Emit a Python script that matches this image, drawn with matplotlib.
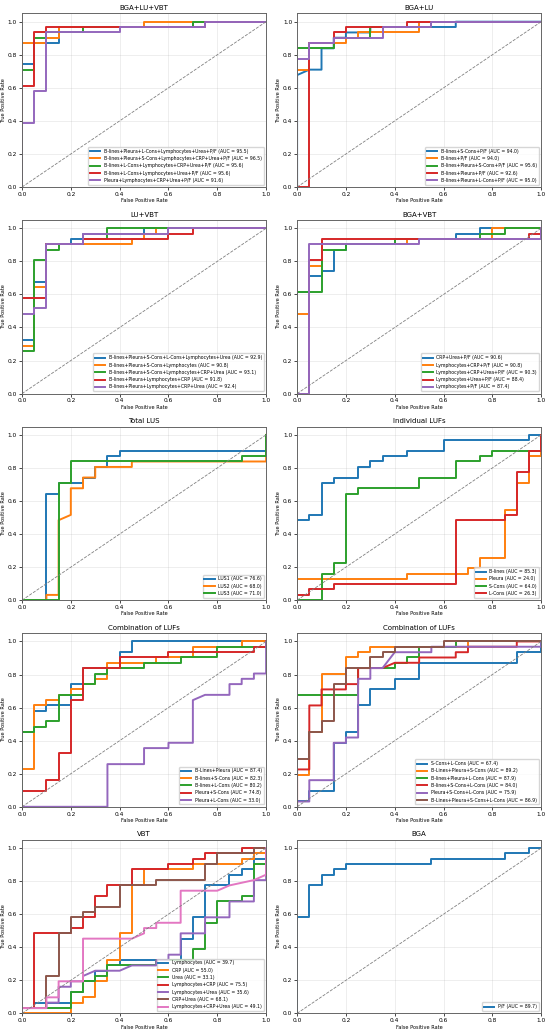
import matplotlib
matplotlib.use("Agg")
import matplotlib.pyplot as plt

# ROC curves (fpr / tpr corner points)

# Panel 1: BGA+LU+VBT
p1_title = "BGA+LU+VBT"
p1_labels = ["B-lines+Pleura+L-Cons+Lymphocytes+Urea+P/F (AUC = 95.5)",
             "B-lines+Pleura+S-Cons+Lymphocytes+CRP+Urea+P/F (AUC = 96.5)",
             "B-lines+L-Cons+Lymphocytes+CRP+Urea+P/F (AUC = 95.6)",
             "B-lines+L-Cons+Lymphocytes+Urea+P/F (AUC = 95.6)",
             "Pleura+Lymphocytes+CRP+Urea+P/F (AUC = 91.6)"]
p1_fpr = [[0, 0, 0.05, 0.05, 0.15, 0.15, 0.7, 0.7, 1],
          [0, 0, 0.1, 0.1, 0.15, 0.15, 0.5, 0.5, 1],
          [0, 0, 0.05, 0.05, 0.1, 0.1, 0.25, 0.25, 0.7, 0.7, 1],
          [0, 0, 0.05, 0.05, 0.1, 0.1, 0.35, 0.35, 0.75, 0.75, 1],
          [0, 0, 0.05, 0.05, 0.1, 0.1, 0.4, 0.4, 0.75, 0.75, 1]]
p1_tpr = [[0, 0.742, 0.742, 0.871, 0.871, 0.968, 0.968, 1, 1],
          [0, 0.871, 0.871, 0.903, 0.903, 0.968, 0.968, 1, 1],
          [0, 0.710, 0.710, 0.903, 0.903, 0.935, 0.935, 0.968, 0.968, 1, 1],
          [0, 0.613, 0.613, 0.935, 0.935, 0.968, 0.968, 0.968, 0.968, 1, 1],
          [0, 0.387, 0.387, 0.581, 0.581, 0.935, 0.935, 0.968, 0.968, 1, 1]]

# Panel 2: BGA+LU
p2_title = "BGA+LU"
p2_labels = ["B-lines+S-Cons+P/F (AUC = 94.0)",
             "B-lines+P/F (AUC = 94.0)",
             "B-lines+Pleura+S-Cons+P/F (AUC = 95.6)",
             "B-lines+Pleura+P/F (AUC = 92.6)",
             "B-lines+Pleura+L-Cons+P/F (AUC = 95.0)"]
p2_fpr = [[0, 0, 0.05, 0.1, 0.1, 0.15, 0.15, 0.2, 0.2, 0.3, 0.3, 0.65, 0.65, 1],
          [0, 0, 0.05, 0.05, 0.2, 0.2, 0.25, 0.25, 0.5, 0.5, 1],
          [0, 0, 0.15, 0.15, 0.3, 0.3, 0.55, 0.55, 1],
          [0, 0.05, 0.05, 0.15, 0.15, 0.2, 0.2, 0.45, 0.45, 1],
          [0, 0, 0.05, 0.05, 0.15, 0.15, 0.35, 0.35, 0.55, 0.55, 1]]
p2_tpr = [[0, 0.677, 0.710, 0.710, 0.839, 0.839, 0.903, 0.903, 0.935, 0.935, 0.968, 0.968, 1, 1],
          [0, 0.710, 0.710, 0.871, 0.871, 0.903, 0.903, 0.935, 0.935, 1, 1],
          [0, 0.839, 0.839, 0.903, 0.903, 0.968, 0.968, 1, 1],
          [0, 0, 0.871, 0.871, 0.935, 0.935, 0.968, 0.968, 1, 1],
          [0, 0.774, 0.774, 0.871, 0.871, 0.903, 0.903, 0.968, 0.968, 1, 1]]

# Panel 3: LU+VBT
p3_title = "LU+VBT"
p3_labels = ["B-lines+Pleura+S-Cons+L-Cons+Lymphocytes+Urea (AUC = 92.9)",
             "B-lines+Pleura+S-Cons+Lymphocytes (AUC = 90.8)",
             "B-lines+Pleura+S-Cons+Lymphocytes+CRP+Urea (AUC = 93.1)",
             "B-lines+Pleura+Lymphocytes+CRP (AUC = 91.8)",
             "B-lines+Pleura+Lymphocytes+CRP+Urea (AUC = 92.4)"]
p3_fpr = [[0, 0, 0.05, 0.05, 0.1, 0.1, 0.2, 0.2, 0.25, 0.25, 0.5, 0.5, 1],
          [0, 0, 0.05, 0.05, 0.1, 0.1, 0.45, 0.45, 0.5, 0.5, 0.55, 0.55, 1],
          [0, 0, 0.05, 0.05, 0.1, 0.1, 0.15, 0.15, 0.25, 0.25, 0.35, 0.35, 1],
          [0, 0, 0.1, 0.1, 0.25, 0.25, 0.6, 0.6, 0.7, 0.7, 1],
          [0, 0, 0.05, 0.05, 0.1, 0.1, 0.25, 0.25, 0.6, 0.6, 1]]
p3_tpr = [[0, 0.323, 0.323, 0.677, 0.677, 0.903, 0.903, 0.935, 0.935, 0.968, 0.968, 1, 1],
          [0, 0.290, 0.290, 0.645, 0.645, 0.903, 0.903, 0.935, 0.935, 0.968, 0.968, 1, 1],
          [0, 0.258, 0.258, 0.806, 0.806, 0.871, 0.871, 0.903, 0.903, 0.935, 0.935, 1, 1],
          [0, 0.581, 0.581, 0.903, 0.903, 0.935, 0.935, 0.968, 0.968, 1, 1],
          [0, 0.484, 0.484, 0.516, 0.516, 0.903, 0.903, 0.968, 0.968, 1, 1]]

# Panel 4: BGA+VBT
p4_title = "BGA+VBT"
p4_labels = ["CRP+Urea+P/F (AUC = 90.6)",
             "Lymphocytes+CRP+P/F (AUC = 90.8)",
             "Lymphocytes+CRP+Urea+P/F (AUC = 90.3)",
             "Lymphocytes+Urea+P/F (AUC = 88.4)",
             "Lymphocytes+P/F (AUC = 87.4)"]
p4_fpr = [[0, 0, 0.05, 0.05, 0.1, 0.1, 0.15, 0.15, 0.2, 0.2, 0.4, 0.4, 0.65, 0.65, 0.75, 0.75, 1],
          [0, 0, 0.05, 0.05, 0.1, 0.1, 0.45, 0.45, 0.8, 0.8, 1],
          [0, 0, 0.1, 0.1, 0.2, 0.2, 0.4, 0.4, 0.75, 0.75, 0.85, 0.85, 1],
          [0, 0.05, 0.05, 0.1, 0.1, 0.95, 0.95, 1, 1],
          [0, 0.05, 0.05, 0.5, 0.5, 1, 1]]
p4_tpr = [[0, 0.613, 0.613, 0.710, 0.710, 0.742, 0.742, 0.871, 0.871, 0.903, 0.903, 0.935, 0.935, 0.968, 0.968, 1, 1],
          [0, 0.484, 0.484, 0.774, 0.774, 0.903, 0.903, 0.935, 0.935, 1, 1],
          [0, 0.613, 0.613, 0.871, 0.871, 0.903, 0.903, 0.935, 0.935, 0.968, 0.968, 1, 1],
          [0, 0, 0.806, 0.806, 0.935, 0.935, 0.968, 0.968, 1],
          [0, 0, 0.903, 0.903, 0.935, 0.935, 1]]

# Panel 5: Total LUS
p5_title = "Total LUS"
p5_labels = ["LUS1 (AUC = 76.6)", "LUS2 (AUC = 68.0)", "LUS3 (AUC = 71.0)"]
p5_fpr = [[0, 0.1, 0.1, 0.15, 0.15, 0.25, 0.25, 0.3, 0.3, 0.35, 0.35, 0.4, 0.4, 1, 1],
          [0, 0.1, 0.1, 0.15, 0.15, 0.2, 0.2, 0.25, 0.25, 0.3, 0.3, 0.45, 0.45, 1, 1],
          [0, 0.15, 0.15, 0.2, 0.2, 0.9, 0.9, 1, 1]]
p5_tpr = [[0, 0, 0.645, 0.645, 0.710, 0.710, 0.742, 0.742, 0.806, 0.806, 0.871, 0.871, 0.903, 0.903, 1],
          [0, 0, 0.032, 0.032, 0.484, 0.516, 0.677, 0.677, 0.742, 0.742, 0.806, 0.806, 0.839, 0.839, 1],
          [0, 0, 0.710, 0.710, 0.839, 0.839, 0.871, 0.871, 1]]

# Panel 6: Individual LUFs
p6_title = "Individual LUFs"
p6_labels = ["B-lines (AUC = 85.3)", "Pleura (AUC = 24.0)",
             "S-Cons (AUC = 64.0)", "L-Cons (AUC = 26.3)"]
p6_fpr = [[0, 0, 0.05, 0.05, 0.1, 0.1, 0.15, 0.15, 0.25, 0.25, 0.3, 0.3, 0.35, 0.35, 0.45, 0.45, 0.6, 0.6, 0.95, 0.95, 1],
          [0, 0, 0.45, 0.45, 0.7, 0.7, 0.75, 0.75, 0.85, 0.85, 0.9, 0.9, 0.95, 0.95, 1, 1],
          [0, 0.1, 0.1, 0.15, 0.15, 0.2, 0.2, 0.25, 0.25, 0.5, 0.5, 0.65, 0.65, 0.75, 0.75, 0.8, 0.8, 1, 1],
          [0, 0, 0.05, 0.05, 0.15, 0.15, 0.65, 0.65, 0.85, 0.85, 0.9, 0.9, 0.95, 0.95, 1, 1]]
p6_tpr = [[0, 0.484, 0.484, 0.516, 0.516, 0.710, 0.710, 0.742, 0.742, 0.806, 0.806, 0.839, 0.839, 0.871, 0.871, 0.903, 0.903, 0.968, 0.968, 1, 1],
          [0, 0.129, 0.129, 0.161, 0.161, 0.194, 0.194, 0.258, 0.258, 0.548, 0.548, 0.710, 0.710, 0.871, 0.871, 1],
          [0, 0, 0.161, 0.161, 0.226, 0.226, 0.645, 0.645, 0.677, 0.677, 0.742, 0.742, 0.839, 0.839, 0.871, 0.871, 0.903, 0.903, 1],
          [0, 0.032, 0.032, 0.065, 0.065, 0.097, 0.097, 0.484, 0.484, 0.516, 0.516, 0.774, 0.774, 0.903, 0.903, 1]]

# Panel 7: Combination of LUFs (pairs)
p7_title = "Combination of LUFs"
p7_labels = ["B-Lines+Pleura (AUC = 87.4)", "B-lines+S-Cons (AUC = 82.3)",
             "B-lines+L-Cons (AUC = 80.2)", "Pleura+S-Cons (AUC = 74.8)",
             "Pleura+L-Cons (AUC = 33.0)"]
p7_fpr = [[0, 0, 0.05, 0.05, 0.1, 0.1, 0.2, 0.2, 0.25, 0.25, 0.4, 0.4, 0.45, 0.45, 1],
          [0, 0, 0.05, 0.05, 0.1, 0.1, 0.15, 0.15, 0.2, 0.2, 0.25, 0.25, 0.3, 0.3, 0.35, 0.35, 0.55, 0.55, 0.7, 0.7, 0.9, 0.9, 1],
          [0, 0, 0.05, 0.05, 0.1, 0.1, 0.15, 0.15, 0.25, 0.25, 0.3, 0.3, 0.35, 0.35, 0.5, 0.5, 0.65, 0.65, 0.8, 0.8, 1, 1],
          [0, 0, 0.1, 0.1, 0.15, 0.15, 0.2, 0.2, 0.25, 0.25, 0.4, 0.4, 0.6, 0.6, 0.95, 0.95, 1, 1],
          [0, 0.35, 0.35, 0.5, 0.5, 0.6, 0.6, 0.7, 0.7, 0.75, 0.85, 0.85, 0.9, 0.9, 0.95, 0.95, 1, 1]]
p7_tpr = [[0, 0.452, 0.452, 0.581, 0.581, 0.613, 0.613, 0.742, 0.742, 0.839, 0.839, 0.935, 0.935, 1, 1],
          [0, 0.226, 0.226, 0.613, 0.613, 0.645, 0.645, 0.677, 0.677, 0.710, 0.710, 0.742, 0.742, 0.774, 0.774, 0.871, 0.871, 0.903, 0.903, 0.968, 0.968, 1, 1],
          [0, 0.452, 0.452, 0.484, 0.484, 0.516, 0.516, 0.677, 0.677, 0.742, 0.742, 0.806, 0.806, 0.839, 0.839, 0.871, 0.871, 0.903, 0.903, 0.968, 0.968, 1],
          [0, 0.097, 0.097, 0.161, 0.161, 0.323, 0.323, 0.645, 0.645, 0.839, 0.839, 0.903, 0.903, 0.935, 0.935, 0.968, 0.968, 1],
          [0, 0, 0.258, 0.258, 0.355, 0.355, 0.387, 0.387, 0.645, 0.677, 0.677, 0.742, 0.742, 0.774, 0.774, 0.806, 0.806, 1]]

# Panel 8: Combination of LUFs (three and four)
p8_title = "Combination of LUFs"
p8_labels = ["S-Cons+L-Cons (AUC = 67.4)",
             "B-Lines+Pleura+S-Cons (AUC = 89.2)",
             "B-lines+Pleura+L-Cons (AUC = 87.9)",
             "B-lines+S-Cons+L-Cons (AUC = 84.0)",
             "Pleura+S-Cons+L-Cons (AUC = 75.9)",
             "B-Lines+Pleura+S-Cons+L-Cons (AUC = 86.9)"]
p8_fpr = [[0, 0, 0.05, 0.05, 0.15, 0.15, 0.2, 0.2, 0.25, 0.25, 0.3, 0.3, 0.4, 0.4, 0.5, 0.5, 0.9, 0.9, 1, 1],
          [0, 0, 0.05, 0.05, 0.1, 0.1, 0.2, 0.2, 0.25, 0.25, 0.3, 0.3, 0.7, 0.7, 1],
          [0, 0, 0.25, 0.25, 0.4, 0.4, 0.45, 0.45, 0.5, 0.5, 0.65, 0.65, 1],
          [0, 0, 0.05, 0.05, 0.1, 0.1, 0.2, 0.2, 0.25, 0.25, 0.35, 0.4, 0.5, 0.5, 0.65, 0.65, 0.7, 0.7, 0.9, 0.9, 1],
          [0, 0, 0.05, 0.05, 0.15, 0.15, 0.2, 0.2, 0.25, 0.25, 0.3, 0.3, 0.35, 0.4, 0.55, 0.55, 1, 1],
          [0, 0, 0.05, 0.05, 0.1, 0.1, 0.15, 0.15, 0.2, 0.2, 0.3, 0.3, 0.35, 0.35, 0.4, 0.4, 0.6, 0.6, 1]]
p8_tpr = [[0, 0.032, 0.032, 0.097, 0.097, 0.387, 0.387, 0.452, 0.452, 0.613, 0.613, 0.710, 0.710, 0.774, 0.774, 0.871, 0.871, 0.935, 0.935, 1],
          [0, 0.194, 0.194, 0.452, 0.452, 0.806, 0.806, 0.903, 0.903, 0.935, 0.935, 0.968, 0.968, 1, 1],
          [0, 0.677, 0.677, 0.839, 0.839, 0.871, 0.871, 0.903, 0.903, 0.968, 0.968, 1, 1],
          [0, 0.226, 0.226, 0.613, 0.613, 0.710, 0.710, 0.742, 0.742, 0.839, 0.839, 0.871, 0.871, 0.903, 0.903, 0.935, 0.935, 0.968, 0.968, 1, 1],
          [0, 0.032, 0.032, 0.161, 0.161, 0.387, 0.387, 0.419, 0.419, 0.774, 0.774, 0.839, 0.839, 0.935, 0.935, 0.968, 0.968, 1],
          [0, 0.290, 0.290, 0.452, 0.452, 0.516, 0.516, 0.742, 0.742, 0.839, 0.839, 0.903, 0.903, 0.935, 0.935, 0.968, 0.968, 1, 1]]

# Panel 9: VBT
p9_title = "VBT"
p9_labels = ["Lymphocytes (AUC = 39.7)", "CRP (AUC = 55.0)", "Urea (AUC = 33.1)",
             "Lymphocytes+CRP (AUC = 75.5)", "Lymphocytes+Urea (AUC = 35.6)",
             "CRP+Urea (AUC = 68.1)", "Lymphocytes+CRP+Urea (AUC = 49.1)"]
p9_fpr = [[0, 0, 0.05, 0.05, 0.2, 0.2, 0.25, 0.25, 0.3, 0.3, 0.35, 0.35, 0.4, 0.4, 0.65, 0.65, 0.7, 0.7, 0.75, 0.75, 0.85, 0.85, 0.9, 0.9, 0.95, 0.95, 1, 1],
          [0, 0.2, 0.2, 0.25, 0.25, 0.3, 0.3, 0.35, 0.35, 0.4, 0.4, 0.45, 0.45, 0.5, 0.5, 0.7, 0.7, 0.9, 0.9, 0.95, 0.95, 1, 1],
          [0, 0, 0.2, 0.2, 0.25, 0.25, 0.3, 0.3, 0.35, 0.35, 0.55, 0.55, 0.7, 0.7, 0.75, 0.75, 0.8, 0.8, 0.9, 0.9, 0.95, 0.95, 1, 1],
          [0, 0, 0.05, 0.05, 0.2, 0.2, 0.25, 0.25, 0.3, 0.3, 0.35, 0.35, 0.45, 0.45, 0.6, 0.6, 0.7, 0.7, 0.75, 0.75, 0.9, 0.9, 1],
          [0, 0, 0.1, 0.1, 0.15, 0.15, 0.2, 0.2, 0.25, 0.25, 0.3, 0.4, 0.45, 0.55, 0.55, 0.6, 0.6, 0.65, 0.65, 0.75, 0.75, 0.85, 0.85, 0.95, 0.95, 1, 1],
          [0, 0, 0.1, 0.1, 0.15, 0.15, 0.2, 0.2, 0.25, 0.25, 0.3, 0.3, 0.4, 0.4, 0.55, 0.55, 0.75, 0.75, 0.8, 0.8, 0.95, 0.95, 1],
          [0, 0, 0.1, 0.1, 0.15, 0.15, 0.25, 0.25, 0.45, 0.5, 0.5, 0.55, 0.55, 0.65, 0.65, 0.8, 0.85, 0.95, 1, 1]]
p9_tpr = [[0, 0.032, 0.032, 0.065, 0.065, 0.129, 0.129, 0.194, 0.194, 0.258, 0.258, 0.290, 0.290, 0.323, 0.323, 0.452, 0.452, 0.581, 0.581, 0.774, 0.774, 0.839, 0.839, 0.871, 0.871, 0.935, 0.935, 1],
          [0, 0, 0.065, 0.065, 0.097, 0.097, 0.194, 0.194, 0.323, 0.323, 0.484, 0.484, 0.774, 0.774, 0.871, 0.871, 0.903, 0.903, 0.935, 0.935, 0.968, 0.968, 1],
          [0, 0.032, 0.032, 0.129, 0.129, 0.194, 0.194, 0.226, 0.226, 0.290, 0.290, 0.323, 0.323, 0.387, 0.387, 0.548, 0.548, 0.677, 0.677, 0.710, 0.710, 0.903, 0.903, 1],
          [0, 0.032, 0.032, 0.484, 0.484, 0.516, 0.516, 0.581, 0.581, 0.710, 0.710, 0.774, 0.774, 0.871, 0.871, 0.903, 0.903, 0.935, 0.935, 0.968, 0.968, 1, 1],
          [0, 0.032, 0.032, 0.065, 0.065, 0.161, 0.161, 0.194, 0.194, 0.226, 0.258, 0.258, 0.290, 0.290, 0.323, 0.323, 0.355, 0.355, 0.484, 0.484, 0.581, 0.581, 0.677, 0.677, 0.806, 0.806, 1],
          [0, 0.032, 0.032, 0.226, 0.226, 0.484, 0.484, 0.581, 0.581, 0.613, 0.613, 0.645, 0.645, 0.774, 0.774, 0.806, 0.806, 0.903, 0.903, 0.968, 0.968, 1, 1],
          [0, 0.032, 0.032, 0.097, 0.097, 0.194, 0.194, 0.452, 0.452, 0.484, 0.516, 0.516, 0.548, 0.548, 0.742, 0.742, 0.774, 0.806, 0.839, 1]]

# Panel 10: BGA
p10_title = "BGA"
p10_labels = ["P/F (AUC = 89.7)"]
p10_fpr = [[0, 0, 0.05, 0.05, 0.1, 0.1, 0.15, 0.15, 0.2, 0.2, 0.55, 0.55, 0.85, 0.85, 0.95, 0.95, 1]]
p10_tpr = [[0, 0.581, 0.581, 0.774, 0.774, 0.839, 0.839, 0.871, 0.871, 0.903, 0.903, 0.935, 0.935, 0.968, 0.968, 1, 1]]

panels = [
    (p1_title, p1_labels, p1_fpr, p1_tpr),
    (p2_title, p2_labels, p2_fpr, p2_tpr),
    (p3_title, p3_labels, p3_fpr, p3_tpr),
    (p4_title, p4_labels, p4_fpr, p4_tpr),
    (p5_title, p5_labels, p5_fpr, p5_tpr),
    (p6_title, p6_labels, p6_fpr, p6_tpr),
    (p7_title, p7_labels, p7_fpr, p7_tpr),
    (p8_title, p8_labels, p8_fpr, p8_tpr),
    (p9_title, p9_labels, p9_fpr, p9_tpr),
    (p10_title, p10_labels, p10_fpr, p10_tpr),
]

fig, axes = plt.subplots(5, 2, figsize=(5.5, 10.33), dpi=100)
fig.subplots_adjust(left=0.04, right=0.984, top=0.987, bottom=0.019,
                    wspace=0.127, hspace=0.19)

for ax, (title, labels, fprs, tprs) in zip(axes.flat, panels):
    for lab, f, t in zip(labels, fprs, tprs):
        ax.plot(f, t, lw=1.4, label=lab)
    ax.plot([0, 1], [0, 1], ls="--", color="gray", lw=0.6)
    ax.set_xlim(0, 1)
    ax.set_ylim(0, 1.05)
    ax.grid(True, alpha=0.3, lw=0.5)
    ax.set_title(title, fontsize=5, pad=2.5)
    ax.set_xlabel("False Positive Rate", fontsize=3.6, labelpad=1)
    ax.set_ylabel("True Positive Rate", fontsize=3.6, labelpad=1.5)
    ax.tick_params(labelsize=4.2, length=2, width=0.5, pad=1.5)
    for sp in ax.spines.values():
        sp.set_linewidth(0.7)
        sp.set_color("#666666")
    ax.legend(loc="lower right", fontsize=3.3, handlelength=2.2,
              borderpad=0.4, labelspacing=0.5, framealpha=0.8)

plt.savefig("out.png", dpi=100)
